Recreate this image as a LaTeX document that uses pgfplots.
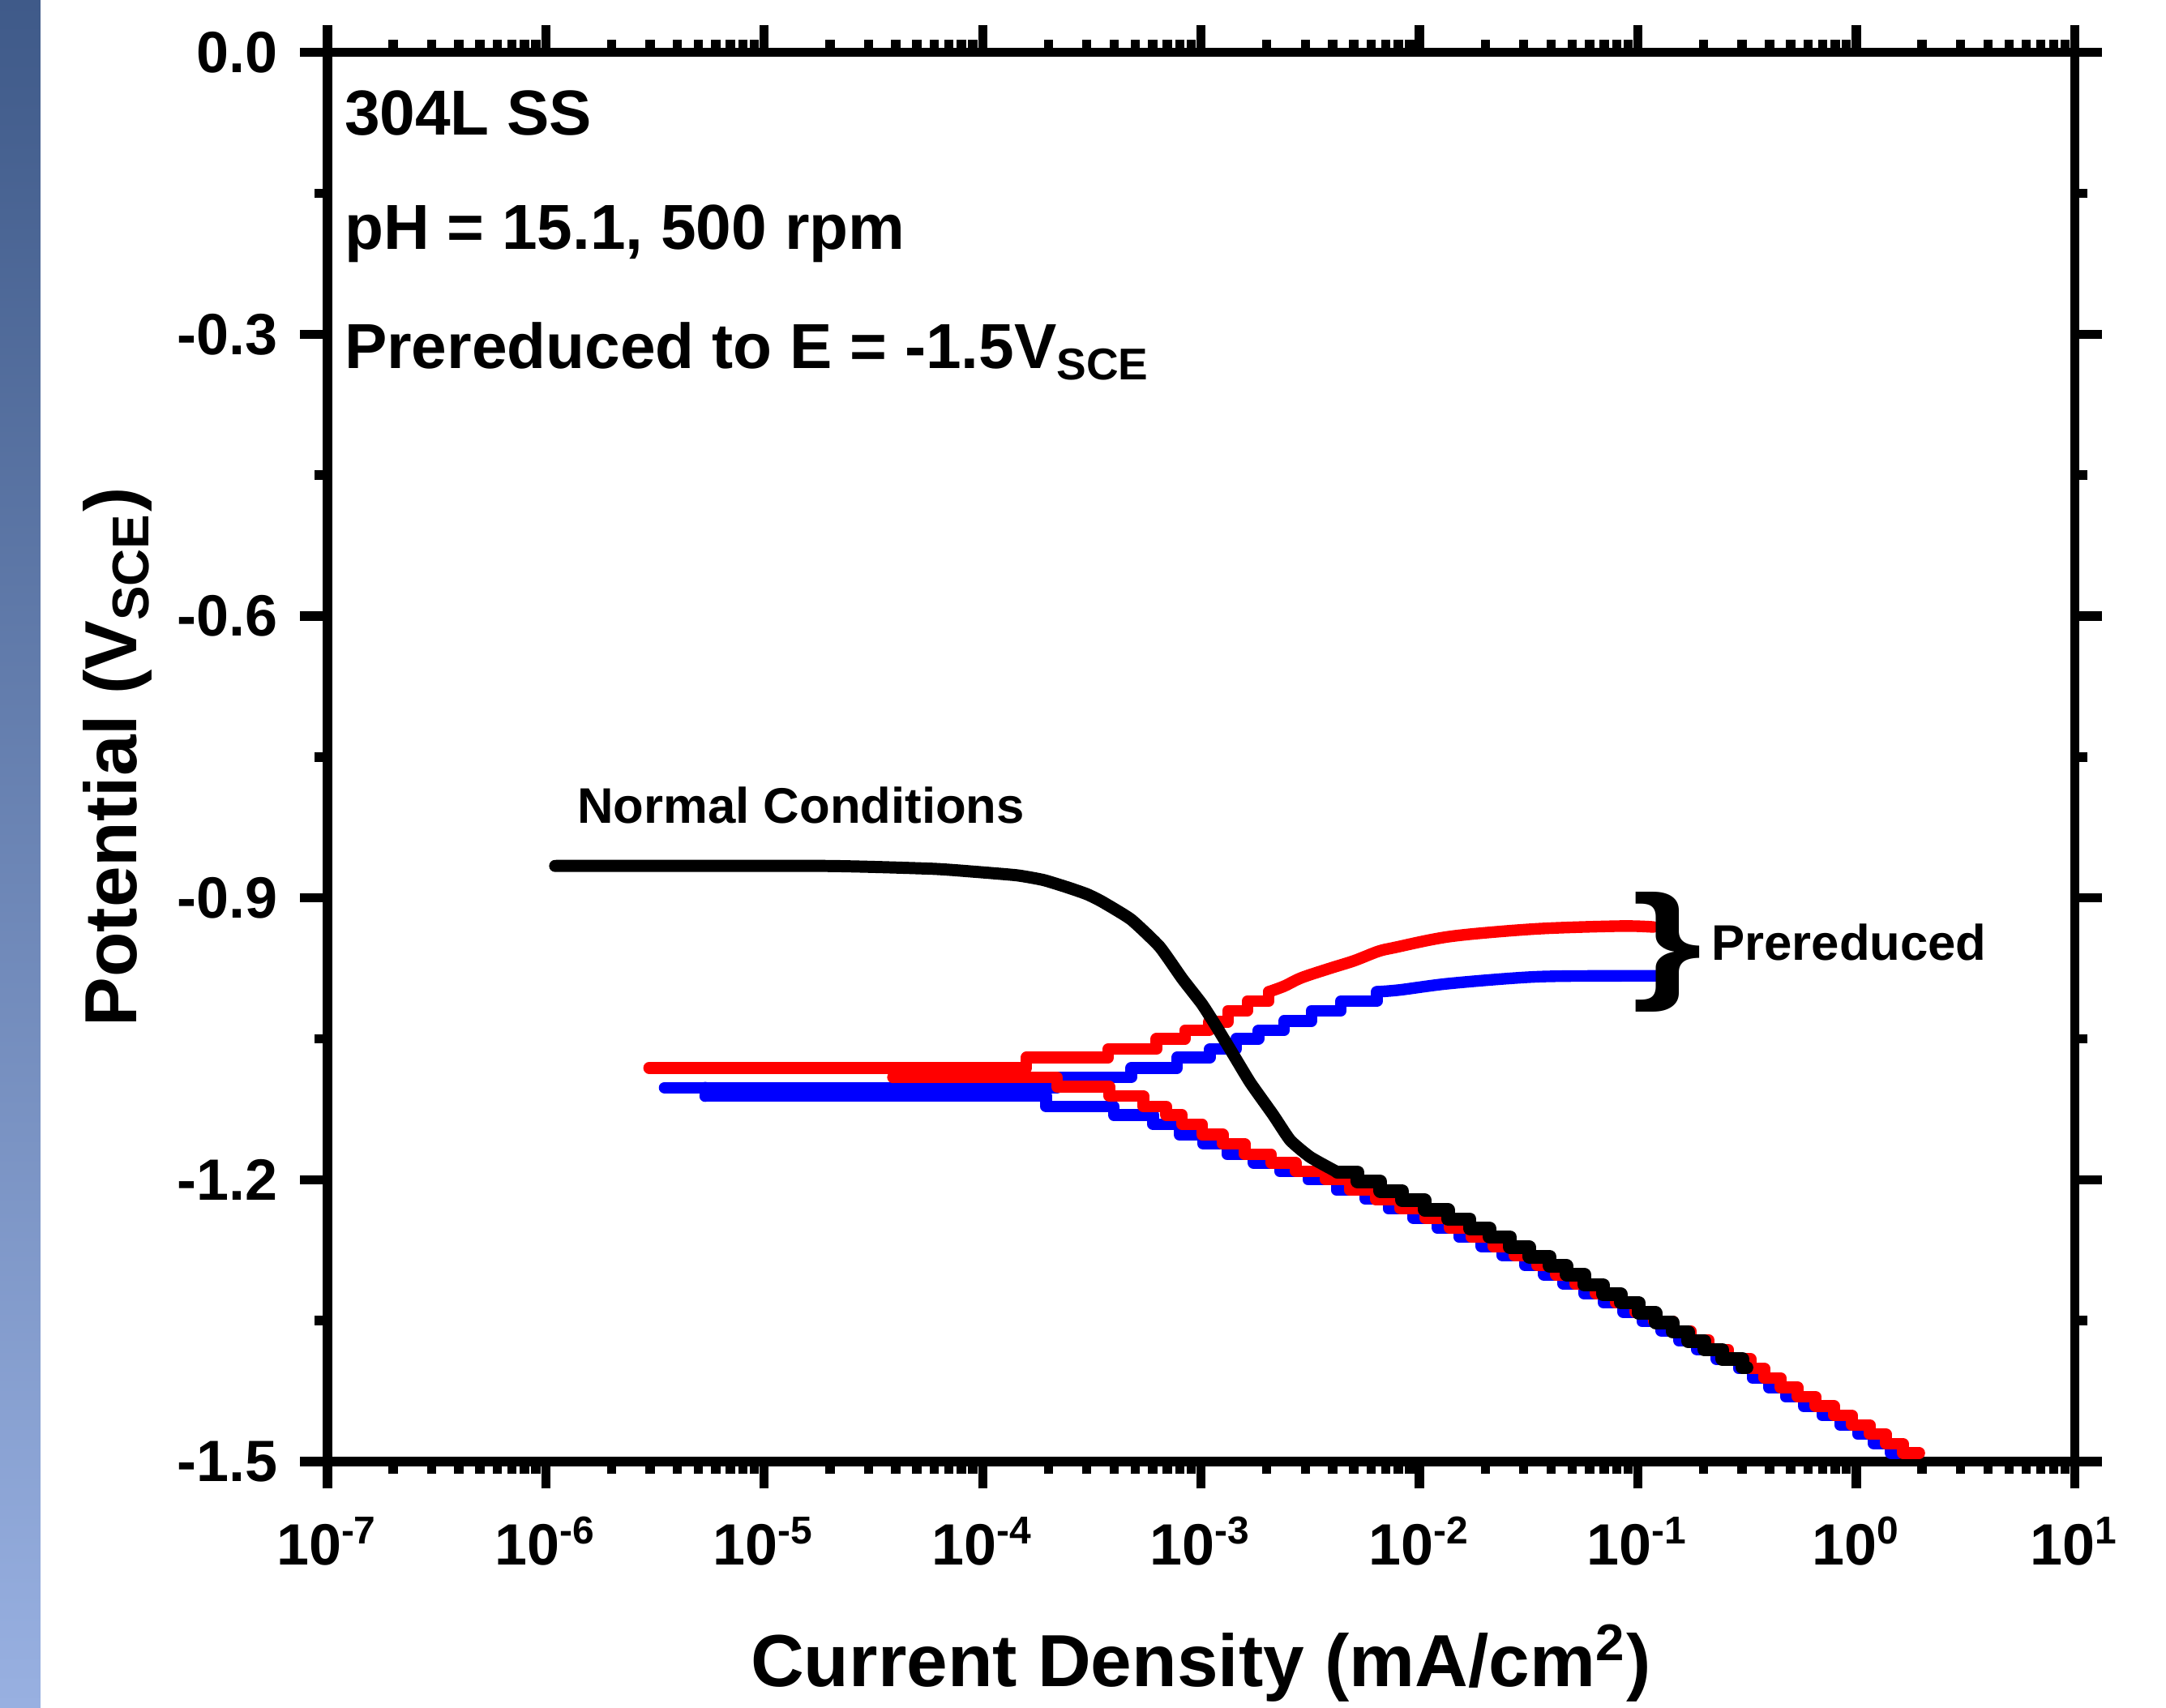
\documentclass[border=0pt]{standalone}
\usepackage{fontspec}
\setmainfont{Liberation Sans}
\usepackage{pgfplots}
\pgfplotsset{compat=1.18}

\definecolor{stripTop}{HTML}{3F5A89}
\definecolor{stripBot}{HTML}{98B0E1}
\definecolor{cRed}{HTML}{FF0000}
\definecolor{cBlue}{HTML}{0000FF}

\begin{document}
\begin{tikzpicture}
\begin{axis}[
  width=12.65cm, height=10.2cm, scale only axis,
  xmode=log, xmin=1e-7, xmax=10,
  ymin=-1.5, ymax=0,
  clip=false,
  axis line style={line width=1.9pt},
  tick align=outside, tick pos=both,
  major tick length=5.6pt, minor tick length=2.6pt,
  every tick/.style={black, line width=1.9pt},
  xtick={1e-7,1e-6,1e-5,1e-4,1e-3,1e-2,1e-1,1,10},
  xticklabels={10\textsuperscript{-7},10\textsuperscript{-6},10\textsuperscript{-5},10\textsuperscript{-4},10\textsuperscript{-3},10\textsuperscript{-2},10\textsuperscript{-1},10\textsuperscript{0},10\textsuperscript{1}},
  minor xtick={2e-7,3e-7,4e-7,5e-7,6e-7,7e-7,8e-7,9e-7,
               2e-6,3e-6,4e-6,5e-6,6e-6,7e-6,8e-6,9e-6,
               2e-5,3e-5,4e-5,5e-5,6e-5,7e-5,8e-5,9e-5,
               2e-4,3e-4,4e-4,5e-4,6e-4,7e-4,8e-4,9e-4,
               2e-3,3e-3,4e-3,5e-3,6e-3,7e-3,8e-3,9e-3,
               2e-2,3e-2,4e-2,5e-2,6e-2,7e-2,8e-2,9e-2,
               0.2,0.3,0.4,0.5,0.6,0.7,0.8,0.9,
               2,3,4,5,6,7,8,9},
  ytick={-1.5,-1.2,-0.9,-0.6,-0.3,0},
  yticklabels={-1.5,-1.2,-0.9,-0.6,-0.3,0.0},
  minor ytick={-1.35,-1.05,-0.75,-0.45,-0.15},
  tick label style={font=\bfseries\fontsize{12}{14}\selectfont},
  xticklabel style={yshift=-2.3pt},
  yticklabel style={xshift=-1.2pt},
  xlabel={Current Density (mA/cm\textsuperscript{2})},
  ylabel={Potential (V\textsubscript{SCE})},
  every axis x label/.style={at={(axis description cs:0.5,-0.1595)}, anchor=base,
    font=\bfseries\fontsize{15.2}{18}\selectfont},
  every axis y label/.style={at={(axis description cs:-0.1202,0.5)}, anchor=center, rotate=90,
    font=\bfseries\fontsize{15.2}{18}\selectfont},
  every axis plot/.append style={line cap=round, line join=round},
]

% blue: prereduced run 2
\addplot[cBlue, line width=2.4pt, const plot] coordinates {
  (5.37e-6,-1.111) (1.95e-4,-1.122) (3.981e-4,-1.131) (6.026e-4,-1.141)
  (7.943e-4,-1.152) (1.023e-3,-1.162) (1.318e-3,-1.173) (1.738e-3,-1.182)
  (2.291e-3,-1.191) (3.09e-3,-1.200) (4.169e-3,-1.211) (5.623e-3,-1.220)
  (7.21e-3,-1.231) (9.38e-3,-1.241) (1.205e-2,-1.251) (1.517e-2,-1.261)
  (1.919e-2,-1.271) (2.399e-2,-1.281) (3.034e-2,-1.291) (3.707e-2,-1.301)
  (4.55e-2,-1.311) (5.649e-2,-1.321) (6.966e-2,-1.331) (8.57e-2,-1.341)
  (1.045e-1,-1.351) (1.279e-1,-1.361) (1.535e-1,-1.371) (1.862e-1,-1.381)
  (2.286e-1,-1.391) (2.891e-1,-1.401) (3.342e-1,-1.411) (3.963e-1,-1.421)
  (4.742e-1,-1.431) (5.728e-1,-1.441) (6.966e-1,-1.451) (8.414e-1,-1.461)
  (1.014,-1.471) (1.202,-1.481) (1.439,-1.491) (1.549,-1.491)
};
\addplot[cBlue, line width=2.4pt] coordinates {(5.37e-6,-1.111) (5.37e-6,-1.102)};
\addplot[cBlue, line width=2.4pt, const plot] coordinates {
  (3.50e-6,-1.102) (2.188e-4,-1.091) (4.786e-4,-1.081) (7.76e-4,-1.070)
  (1.096e-3,-1.061) (1.445e-3,-1.050) (1.832e-3,-1.041) (2.399e-3,-1.031)
  (3.199e-3,-1.020) (4.365e-3,-1.010) (6.383e-3,-1.000)
};
\addplot[cBlue, line width=2.4pt, smooth] coordinates {
  (6.383e-3,-1.000) (8.13e-3,-0.998) (1.39e-2,-0.991) (3.42e-2,-0.984)
  (8.39e-2,-0.983) (1.282e-1,-0.983)
};

% red: prereduced run 1
\addplot[cRed, line width=2.4pt, const plot] coordinates {
  (3.89e-5,-1.091) (2.188e-4,-1.101) (3.80e-4,-1.111) (5.445e-4,-1.122)
  (6.92e-4,-1.131) (8.18e-4,-1.141) (1.009e-3,-1.152) (1.259e-3,-1.162)
  (1.585e-3,-1.173) (2.089e-3,-1.182) (2.716e-3,-1.191) (3.715e-3,-1.200)
  (4.786e-3,-1.211) (6.31e-3,-1.221) (8.18e-3,-1.231) (1.064e-2,-1.241)
  (1.368e-2,-1.251) (1.722e-2,-1.261) (2.178e-2,-1.271) (2.723e-2,-1.281)
  (3.443e-2,-1.291) (4.207e-2,-1.301) (5.164e-2,-1.311) (6.412e-2,-1.321)
  (7.907e-2,-1.331) (9.73e-2,-1.341) (1.186e-1,-1.351) (1.452e-1,-1.361)
  (1.742e-1,-1.371) (2.113e-1,-1.381) (2.594e-1,-1.391) (3.281e-1,-1.401)
  (3.793e-1,-1.411) (4.498e-1,-1.421) (5.383e-1,-1.431) (6.501e-1,-1.441)
  (7.907e-1,-1.451) (9.55e-1,-1.461) (1.151,-1.471) (1.365,-1.481)
  (1.633,-1.491) (1.941,-1.491)
};
\addplot[cRed, line width=2.4pt] coordinates {(3.89e-5,-1.091) (4.3e-5,-1.081)};
\addplot[cRed, line width=2.4pt, const plot] coordinates {
  (2.972e-6,-1.081) (1.585e-4,-1.070) (3.758e-4,-1.061) (6.25e-4,-1.050)
  (8.43e-4,-1.041) (1.089e-3,-1.032) (1.327e-3,-1.020) (1.629e-3,-1.010)
  (2.042e-3,-1.000)
};
\addplot[cRed, line width=2.4pt, smooth] coordinates {
  (2.042e-3,-1.000) (2.40e-3,-0.994) (2.884e-3,-0.985) (3.89e-3,-0.975)
  (5.01e-3,-0.967) (6.46e-3,-0.957) (7.64e-3,-0.953) (1.39e-2,-0.941)
  (3.42e-2,-0.933) (8.39e-2,-0.930) (1.175e-1,-0.931)
};

% black: normal conditions
\addplot[black, line width=2.5pt, smooth, tension=0.3] coordinates {
  (1.104e-6,-0.866) (1.905e-5,-0.866) (5.86e-5,-0.869) (8.99e-5,-0.872)
  (1.439e-4,-0.876) (1.9e-4,-0.881) (2.46e-4,-0.889) (3.0e-4,-0.896)
  (3.52e-4,-0.904) (4.78e-4,-0.923)
  (6.46e-4,-0.952) (8.20e-4,-0.986) (1.009e-3,-1.013) (1.175e-3,-1.037)
  (1.406e-3,-1.067) (1.683e-3,-1.097) (2.138e-3,-1.131) (2.559e-3,-1.158)
  (3.162e-3,-1.176) (4.207e-3,-1.192)
};
\addplot[black, line width=2.8pt, const plot] coordinates {
  (4.21e-3,-1.192) (5.20e-3,-1.202) (6.61e-3,-1.212) (8.32e-3,-1.222)
  (1.057e-2,-1.232) (1.349e-2,-1.242) (1.698e-2,-1.252) (2.094e-2,-1.261)
  (2.594e-2,-1.272) (3.184e-2,-1.282) (3.945e-2,-1.292) (4.72e-2,-1.301)
  (5.69e-2,-1.312) (6.92e-2,-1.322) (8.36e-2,-1.331) (1.007e-1,-1.342)
  (1.205e-1,-1.352) (1.445e-1,-1.362) (1.698e-1,-1.372) (2.018e-1,-1.381)
  (2.432e-1,-1.391) (3.013e-1,-1.400) (3.141e-1,-1.400)
};

\node[anchor=base west, inner sep=0, font=\bfseries\fontsize{13.1}{15}\selectfont]
  at (rel axis cs:0.0093,0.9415) {304L SS};
\node[anchor=base west, inner sep=0, font=\bfseries\fontsize{13.1}{15}\selectfont]
  at (rel axis cs:0.0093,0.8604) {pH = 15.1, 500 rpm};
\node[anchor=base west, inner sep=0, font=\bfseries\fontsize{13.1}{15}\selectfont]
  at (rel axis cs:0.0093,0.7757) {Prereduced to E = -1.5V\textsubscript{SCE}};
\node[anchor=base west, inner sep=0, font=\bfseries\fontsize{10.3}{12}\selectfont]
  at (rel axis cs:0.1425,0.4533) {Normal Conditions};
\node[anchor=base west, inner sep=0, font=\bfseries\fontsize{10.3}{12}\selectfont]
  at (rel axis cs:0.7915,0.3555) {Prereduced};
\node[inner sep=0, font=\bfseries\fontsize{26.5}{28}\selectfont]
  at (rel axis cs:0.7666,0.3618) {\scalebox{1.4}[1]{\}}};

\coordinate (bl) at ([shift={(-2.37cm,-1.78cm)}]rel axis cs:0,0);
\coordinate (tr) at ([shift={(0.66cm,0.38cm)}]rel axis cs:1,1);
\coordinate (stripTR) at ([shift={(-2.077cm,0.38cm)}]rel axis cs:0,1);
\end{axis}
\pgfresetboundingbox
\useasboundingbox (bl) rectangle (tr);
\shade[top color=stripTop, bottom color=stripBot] (bl) rectangle (stripTR);
\end{tikzpicture}
\end{document}
